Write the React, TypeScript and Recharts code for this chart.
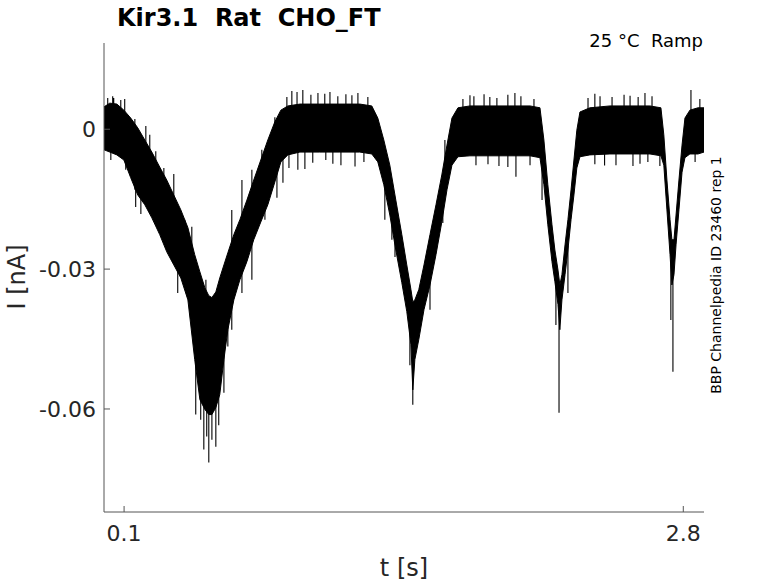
import { ComposedChart, Area, Line, XAxis, YAxis } from 'recharts';

// envelope of the noisy current trace (nA)
const BAND_T = [
  0.003, 0.031, 0.065, 0.099, 0.132, 0.166, 0.2, 0.234, 0.272, 0.306,
  0.34, 0.374, 0.408, 0.441, 0.466, 0.49, 0.509, 0.524, 0.543, 0.562,
  0.582, 0.601, 0.63, 0.659, 0.693, 0.726, 0.76, 0.794, 0.828, 0.857,
  0.891, 0.949, 1.045, 1.142, 1.238, 1.296, 1.325, 1.354, 1.383, 1.412,
  1.441, 1.465, 1.485, 1.494, 1.504, 1.523, 1.548, 1.577, 1.606, 1.634,
  1.659, 1.683, 1.712, 1.77, 1.866, 1.963, 2.06, 2.108, 2.127, 2.146,
  2.166, 2.18, 2.195, 2.204, 2.214, 2.229, 2.243, 2.258, 2.272, 2.286,
  2.301, 2.349, 2.446, 2.543, 2.639, 2.692, 2.706, 2.721, 2.736, 2.745,
  2.755, 2.765, 2.779, 2.794, 2.808, 2.832, 2.871, 2.9,
];
const BAND_HI = [
  0.0048, 0.0056, 0.0054, 0.0041, 0.0024, 0.0003, -0.0023, -0.0049, -0.0081, -0.0109,
  -0.0141, -0.0173, -0.0211, -0.0269, -0.0306, -0.034, -0.0357, -0.0361, -0.0349, -0.0319,
  -0.0291, -0.0265, -0.0226, -0.0194, -0.0152, -0.0109, -0.0066, -0.0023, 0.0016, 0.0041,
  0.005, 0.0054, 0.0054, 0.0054, 0.0054, 0.005, 0.0024, -0.0023, -0.0077, -0.0152,
  -0.0226, -0.0291, -0.0344, -0.037, -0.0366, -0.0344, -0.0291, -0.0226, -0.0162, -0.0098,
  -0.0034, 0.0024, 0.0046, 0.005, 0.005, 0.005, 0.005, 0.0046, -0.0023, -0.0119,
  -0.0205, -0.0259, -0.0302, -0.0334, -0.0312, -0.0248, -0.0194, -0.013, -0.0066, -0.0002,
  0.0037, 0.0046, 0.005, 0.005, 0.005, 0.0046, -0.0012, -0.0109, -0.0194, -0.0237,
  -0.0237, -0.0184, -0.0109, -0.0034, 0.0024, 0.0041, 0.0046, 0.0046,
];
const BAND_LO = [
  -0.0044, -0.0049, -0.0055, -0.0066, -0.0104, -0.0141, -0.0162, -0.019, -0.0226, -0.0263,
  -0.0291, -0.0319, -0.0366, -0.0494, -0.058, -0.0601, -0.0612, -0.0612, -0.0597, -0.0569,
  -0.0494, -0.043, -0.0366, -0.0323, -0.0284, -0.0237, -0.0199, -0.0162, -0.0113, -0.007,
  -0.0055, -0.0049, -0.0049, -0.0049, -0.0049, -0.0053, -0.007, -0.0119, -0.0184, -0.0259,
  -0.0329, -0.0391, -0.0462, -0.0559, -0.0494, -0.0451, -0.0387, -0.0334, -0.0269, -0.0199,
  -0.013, -0.0077, -0.0059, -0.0057, -0.0057, -0.0057, -0.0057, -0.0061, -0.0119, -0.0205,
  -0.0284, -0.0327, -0.0376, -0.043, -0.0366, -0.0312, -0.0259, -0.0194, -0.0141, -0.0083,
  -0.0059, -0.0055, -0.0053, -0.0053, -0.0053, -0.0057, -0.0077, -0.0173, -0.0269, -0.0334,
  -0.0312, -0.0248, -0.0173, -0.0092, -0.0061, -0.0053, -0.0053, -0.0049,
];

// single noise spikes sticking out of the band: time, base inside band, tip
const SPIKE_T = [
  // plateaus, upward
  0.021, 0.045, 0.084, 0.91, 0.935, 0.963, 1.002, 1.036, 1.069, 1.094,
  1.132, 1.171, 1.2, 1.229, 1.277, 1.736, 1.77, 1.789, 1.838, 1.866,
  1.9, 1.953, 1.987, 2.016, 2.079, 2.34, 2.373, 2.398, 2.456, 2.514,
  2.543, 2.582, 2.615, 2.649, 2.837, 2.88,
  // plateaus, downward
  0.036, 0.896, 0.939, 0.973, 1.011, 1.074, 1.108, 1.147, 1.215, 1.258,
  1.799, 1.857, 1.91, 1.953, 1.992, 2.06, 2.373, 2.42, 2.475, 2.557,
  2.591, 2.629, 2.687, 2.857,
  // slopes and troughs
  0.05, 0.103, 0.108, 0.152, 0.152, 0.156, 0.181, 0.205, 0.224, 0.253,
  0.292, 0.34, 0.359, 0.393, 0.427, 0.446, 0.47, 0.485, 0.495, 0.499,
  0.509, 0.524, 0.543, 0.557, 0.582, 0.601, 0.62, 0.62, 0.669, 0.669,
  0.717, 0.717, 0.765, 0.78, 0.828, 0.838, 0.867, 0.886, 1.359, 1.393,
  1.408, 1.48, 1.494, 1.577, 1.639, 1.649, 2.118, 2.185, 2.2, 2.243,
  2.74, 2.75,
];
const SPIKE_FROM = [
  0, 0, 0, 0, 0, 0, 0, 0, 0, 0,
  0, 0, 0, 0, 0, 0, 0, 0, 0, 0,
  0, 0, 0, 0, 0, 0, 0, 0, 0, 0,
  0, 0, 0, 0, 0, 0,
  0, 0, 0, 0, 0, 0, 0, 0, 0, 0,
  0, 0, 0, 0, 0, 0, 0, 0, 0, 0,
  0, 0, 0, 0,
  0, 0, -0.004, -0.006, -0.005, -0.008, -0.008, -0.008, -0.01, -0.013,
  -0.016, -0.02, -0.025, -0.027, -0.03, -0.035, -0.04, -0.04, -0.04, -0.045,
  -0.045, -0.045, -0.045, -0.04, -0.035, -0.035, -0.03, -0.025, -0.02, -0.025,
  -0.016, -0.022, -0.012, -0.01, -0.004, -0.005, -0.003, 0, -0.01, -0.015,
  -0.02, -0.04, -0.045, -0.03, -0.012, -0.008, -0.006, -0.03, -0.035, -0.025,
  -0.028, -0.028,
];
const SPIKE_TO = [
  0.0067, 0.0071, 0.0063, 0.0082, 0.008, 0.0084, 0.0074, 0.0078, 0.0076, 0.008,
  0.0071, 0.0075, 0.0073, 0.0078, 0.0069, 0.0065, 0.0073, 0.0071, 0.0075, 0.0069,
  0.0067, 0.0074, 0.0078, 0.0071, 0.0065, 0.0067, 0.0076, 0.0071, 0.0069, 0.0074,
  0.0072, 0.0069, 0.0078, 0.0071, 0.0084, 0.0065,
  -0.0066, -0.0083, -0.0087, -0.0085, -0.0072, -0.0066, -0.0074, -0.0077, -0.008, -0.007,
  -0.0077, -0.0075, -0.0079, -0.0081, -0.0102, -0.0077, -0.0075, -0.0078, -0.0077, -0.0079,
  -0.0074, -0.007, -0.0079, -0.007,
  0.0067, 0.0065, -0.0087, 0.0022, -0.013, -0.0167, -0.0182, 0.0007, -0.0012, -0.0047,
  -0.0083, -0.0096, -0.0351, -0.0194, -0.0209, -0.0612, -0.0623, -0.0687, -0.0323, -0.0659,
  -0.0715, -0.0666, -0.0681, -0.0635, -0.0565, -0.0466, -0.0173, -0.043, -0.0109, -0.0351,
  -0.0087, -0.0323, -0.0044, -0.0194, 0.0026, -0.0147, -0.0115, 0.0069, -0.0194, -0.0237,
  -0.0274, -0.0506, -0.0591, -0.0387, -0.0201, -0.0023, -0.0152, -0.042, -0.0608, -0.0351,
  -0.0409, -0.052,
];

const X_TICKS = [0.1, 2.8];
const Y_TICKS = [-0.06, -0.03, 0];
const X_DOMAIN = [0.003, 2.9];
const Y_DOMAIN = [-0.0821, 0.0185];

const TITLE = 'Kir3.1  Rat  CHO_FT';
const NOTE = '25 °C  Ramp';
const SIDE = 'BBP Channelpedia ID 23460 rep 1';

const FONT = '"DejaVu Sans", sans-serif';
const AXIS = '#555555';
const TEXT = '#262626';
const PRE = { whiteSpace: 'pre' as const };

const bandData = BAND_T.map((t, i) => ({ t, range: [BAND_LO[i], BAND_HI[i]] }));
const spikeData = SPIKE_T.flatMap((t, i) => [
  { t, v: SPIKE_FROM[i] },
  { t, v: SPIKE_TO[i] },
  { t, v: null },
]);

function YTick(props: any) {
  const { x, y, payload } = props;
  return (
    <g>
      <line x1={x + 8} x2={x + 14} y1={y} y2={y} stroke={AXIS} />
      <text x={x} y={y} dy="0.35em" textAnchor="end" fill={TEXT} fontSize={22} fontFamily={FONT}>
        {String(payload.value)}
      </text>
    </g>
  );
}

function XTick(props: any) {
  const { x, y, payload } = props;
  return (
    <g>
      <line x1={x} x2={x} y1={y - 13} y2={y - 19} stroke={AXIS} />
      <text x={x} y={y} dy="0.71em" textAnchor="middle" fill={TEXT} fontSize={22} fontFamily={FONT}>
        {String(payload.value)}
      </text>
    </g>
  );
}

export default function App() {
  return (
    <div style={{ position: 'fixed', left: 0, top: 0, width: 778, height: 583, background: '#fff' }}>
      <ComposedChart
        width={778}
        height={583}
        data={bandData}
        margin={{ top: 43, right: 74, bottom: 31, left: 44 }}
      >
        <XAxis
          dataKey="t"
          type="number"
          domain={X_DOMAIN}
          ticks={X_TICKS}
          interval={0}
          allowDataOverflow
          height={40}
          stroke={AXIS}
          tickSize={0}
          tickMargin={13}
          tick={<XTick />}
        />
        <YAxis
          type="number"
          domain={Y_DOMAIN}
          ticks={Y_TICKS}
          interval={0}
          allowDataOverflow
          width={60}
          stroke={AXIS}
          tickSize={0}
          tickMargin={8}
          tick={<YTick />}
        />
        <Area
          dataKey="range"
          type="linear"
          stroke="#000"
          strokeWidth={1}
          fill="#000"
          fillOpacity={1}
          isAnimationActive={false}
          dot={false}
          activeDot={false}
        />
        <Line
          data={spikeData}
          dataKey="v"
          type="linear"
          stroke="#000"
          strokeWidth={1.1}
          dot={false}
          activeDot={false}
          connectNulls={false}
          isAnimationActive={false}
        />
      </ComposedChart>
      <svg
        width={778}
        height={583}
        style={{ position: 'absolute', left: 0, top: 0, pointerEvents: 'none' }}
      >
        <text
          x={117}
          y={26}
          xmlSpace="preserve"
          style={PRE}
          fontFamily={FONT}
          fontWeight="bold"
          fontSize={24}
          fill="#000"
        >
          {TITLE}
        </text>
        <text
          x={703}
          y={47}
          xmlSpace="preserve"
          style={PRE}
          textAnchor="end"
          fontFamily={FONT}
          fontSize={18}
          fill="#000"
        >
          {NOTE}
        </text>
        <text
          x={716}
          y={275}
          textAnchor="middle"
          dominantBaseline="central"
          transform="rotate(-90 716 275)"
          fontFamily={FONT}
          fontSize={14}
          fill="#000"
        >
          {SIDE}
        </text>
        <text
          x={17}
          y={277}
          textAnchor="middle"
          dominantBaseline="central"
          transform="rotate(-90 17 277)"
          fontFamily={FONT}
          fontSize={24}
          fill={TEXT}
        >
          I [nA]
        </text>
        <text x={404} y={576} textAnchor="middle" fontFamily={FONT} fontSize={24} fill={TEXT}>
          t [s]
        </text>
      </svg>
    </div>
  );
}
